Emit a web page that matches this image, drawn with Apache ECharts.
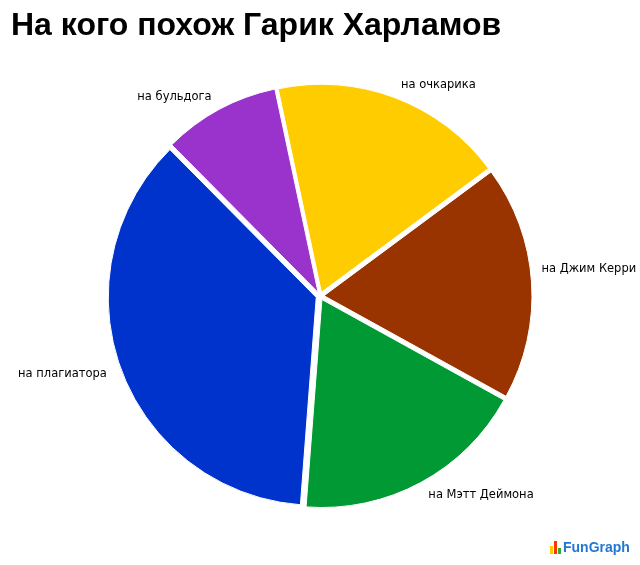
<!DOCTYPE html>
<html><head><meta charset="utf-8">
<script src="https://cdn.jsdelivr.net/npm/echarts@6/dist/echarts.min.js"></script>
<style>html,body{margin:0;padding:0;background:#fff}#c{width:640px;height:565px}</style>
</head><body><div id="c"></div>
<script>
var titleText = 'На кого похож Гарик Харламов';
var categories = ['на очкарика', 'на Джим Керри', 'на Мэтт Деймона', 'на плагиатора', 'на бульдога'];
var values = [2, 2, 2, 4, 1];
var colors = ['#FFCC00', '#993300', '#009933', '#0033CC', '#9933CC'];

var chart = echarts.init(document.getElementById('c'), null, {renderer: 'canvas'});
var data = categories.map(function (c, i) {
  var d = {name: c, value: values[i], selected: true, itemStyle: {color: colors[i]}};
  if (i === 1) {
    d.label = {formatter: '{t|{b}}\n{g|}', rich: {t: {lineHeight: 14}, g: {lineHeight: 24}}};
    d.labelLine = {length: 9, length2: 0};
  }
  return d;
});
chart.setOption({
  backgroundColor: '#fff',
  animation: false,
  title: {
    text: titleText, left: 6, top: 5,
    textStyle: {fontFamily: 'Liberation Sans, Arial, sans-serif', fontWeight: 'bold', fontSize: 32, color: '#000'}
  },
  graphic: [
    {type: 'rect', shape: {x: 550, y: 546, width: 3, height: 8}, style: {fill: '#FFCC00'}},
    {type: 'rect', shape: {x: 554, y: 541, width: 3, height: 13}, style: {fill: '#FF3300'}},
    {type: 'rect', shape: {x: 558, y: 548, width: 3, height: 6}, style: {fill: '#33AA33'}},
    {type: 'text', left: 563, top: 541, style: {text: 'FunGraph', fill: '#2277D4', font: 'bold 14px Liberation Sans, Arial, sans-serif'}}
  ],
  series: [{
    type: 'pie',
    center: [320, 296],
    radius: 208,
    startAngle: 102,
    clockwise: true,
    selectedMode: 'multiple',
    selectedOffset: 4,
    emphasis: {disabled: true},
    itemStyle: {borderColor: '#fff', borderWidth: 1},
    label: {
      show: true, position: 'outside', overflow: 'none', distanceToLabelLine: 1,
      fontFamily: 'DejaVu Sans, Verdana, sans-serif', fontSize: 11.5, color: '#000'
    },
    labelLine: {show: false, length: 14, length2: 0},
    data: data
  }]
});
</script>
</body></html>
